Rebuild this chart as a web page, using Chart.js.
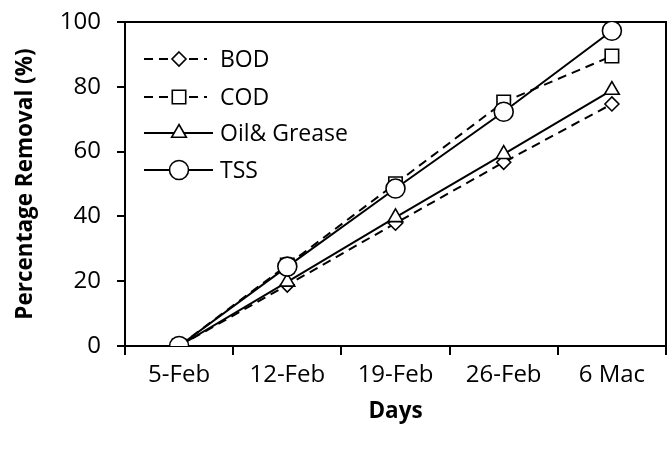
<!DOCTYPE html>
<html>
<head>
<meta charset="utf-8">
<script src="https://cdn.jsdelivr.net/npm/chart.js@4.4.1/dist/chart.umd.min.js"></script>
<style>
  html, body { margin: 0; padding: 0; background: #fff; }
  #wrap { width: 670px; height: 455px; }
</style>
</head>
<body>
<div id="wrap"><canvas id="c" width="670" height="455"></canvas></div>
<script>
// Sampling dates along the x axis
const days = ['5-Feb', '12-Feb', '19-Feb', '26-Feb', '6 Mac'];

// Percentage removal for each parameter
const bod = [0, 18.8, 37.9, 56.7, 74.7];
const cod = [0, 25.0, 50.1, 75.3, 89.5];
const oilGrease = [0, 19.8, 39.7, 59.2, 79.0];
const tss = [0, 24.5, 48.6, 72.3, 97.3];

const yTicks = [0, 20, 40, 60, 80, 100];

const FONT = "'Open Sans', 'DejaVu Sans', sans-serif";

function series(label, data, style, radius, dashed, order) {
  return {
    label, data, order,
    borderColor: '#000',
    borderWidth: 2,
    borderDash: dashed ? [9, 6] : [],
    pointStyle: style,
    pointRadius: radius,
    pointHoverRadius: radius,
    pointBackgroundColor: '#fff',
    pointBorderColor: '#000',
    pointBorderWidth: 1.6,
    fill: false,
    tension: 0
  };
}

// Legend with line + marker samples, drawn inside the plot area
const sampleLegend = {
  id: 'sampleLegend',
  afterDatasetsDraw(chart) {
    const { ctx, chartArea } = chart;
    const rows = [37, 75, 111, 148];
    const x0 = chartArea.left + 19, x1 = chartArea.left + 88, xm = chartArea.left + 54;
    ctx.save();
    chart.data.datasets.forEach((ds, i) => {
      const y = chartArea.top + rows[i];
      ctx.strokeStyle = '#000';
      ctx.lineWidth = 2;
      ctx.setLineDash(ds.borderDash);
      ctx.beginPath();
      ctx.moveTo(x0, y);
      ctx.lineTo(ds.borderDash.length ? x1 - 6 : x1, y);
      ctx.stroke();
      ctx.setLineDash([]);
      ctx.fillStyle = '#fff';
      ctx.strokeStyle = '#000';
      ctx.lineWidth = ds.pointBorderWidth;
      const r = ds.pointRadius;
      ctx.beginPath();
      if (ds.pointStyle === 'circle') {
        ctx.arc(xm, y, r, 0, Math.PI * 2);
      } else if (ds.pointStyle === 'rect') {
        const s = r * Math.SQRT1_2;
        ctx.rect(xm - s, y - s, 2 * s, 2 * s);
      } else if (ds.pointStyle === 'rectRot') {
        ctx.moveTo(xm, y - r); ctx.lineTo(xm + r, y); ctx.lineTo(xm, y + r); ctx.lineTo(xm - r, y); ctx.closePath();
      } else if (ds.pointStyle === 'triangle') {
        ctx.moveTo(xm, y - r);
        ctx.lineTo(xm + r * Math.sin(Math.PI / 3), y + r * 0.5);
        ctx.lineTo(xm - r * Math.sin(Math.PI / 3), y + r * 0.5);
        ctx.closePath();
      }
      ctx.fill();
      ctx.stroke();
      ctx.fillStyle = '#000';
      ctx.font = '23px ' + FONT;
      ctx.textAlign = 'left';
      ctx.textBaseline = 'middle';
      ctx.fillText(ds.label, chartArea.left + 95, y + 1);
    });
    ctx.restore();
  }
};

// Box around the plot area
const frame = {
  id: 'frame',
  beforeDatasetsDraw(chart) {
    const { ctx, chartArea: a } = chart;
    ctx.save();
    ctx.strokeStyle = '#000';
    ctx.lineWidth = 2;
    ctx.strokeRect(a.left, a.top, a.right - a.left, a.bottom - a.top);
    ctx.restore();
  }
};

new Chart(document.getElementById('c'), {
  type: 'line',
  data: {
    labels: days,
    datasets: [
      series('BOD', bod, 'rectRot', 7, true, 3),
      series('COD', cod, 'rect', 9.5, true, 2),
      series('Oil& Grease', oilGrease, 'triangle', 8.5, false, 1),
      series('TSS', tss, 'circle', 9.5, false, 0)
    ]
  },
  options: {
    responsive: false,
    animation: false,
    events: [],
    layout: { autoPadding: false, padding: { left: 0, right: 4, top: 22, bottom: 30 } },
    plugins: { legend: { display: false }, tooltip: { enabled: false } },
    scales: {
      x: {
        offset: true,
        grid: { offset: true, display: true, drawOnChartArea: false, drawTicks: true, tickLength: 9, color: '#000', lineWidth: 2 },
        border: { display: true, color: '#000', width: 2 },
        ticks: { color: '#000', font: { family: FONT, size: 24 }, padding: 6, maxRotation: 0, autoSkip: false },
        title: { display: true, text: 'Days', color: '#000', font: { family: FONT, size: 22.5, weight: 'bold' }, padding: 0 },
        afterFit(scale) {
          scale.height = 455 - 30 - 346;
          scale.paddingLeft = 0; scale.paddingRight = 0;
        }
      },
      y: {
        min: 0, max: 100,
        afterBuildTicks(scale) { scale.ticks = yTicks.map(v => ({ value: v })); },
        grid: { display: true, drawOnChartArea: false, drawTicks: true, tickLength: 8, color: '#000', lineWidth: 2 },
        border: { display: true, color: '#000', width: 2 },
        ticks: { color: '#000', font: { family: FONT, size: 24 }, padding: 16 },
        title: { display: true, text: 'Percentage Removal (%)', color: '#000', font: { family: FONT, size: 22.5, weight: 'bold' }, padding: { top: 12, bottom: 0 } },
        afterFit(scale) {
          scale.width = 125;
          scale.paddingTop = 0; scale.paddingBottom = 0;
        }
      }
    }
  },
  plugins: [frame, sampleLegend]
});
</script>
</body>
</html>
